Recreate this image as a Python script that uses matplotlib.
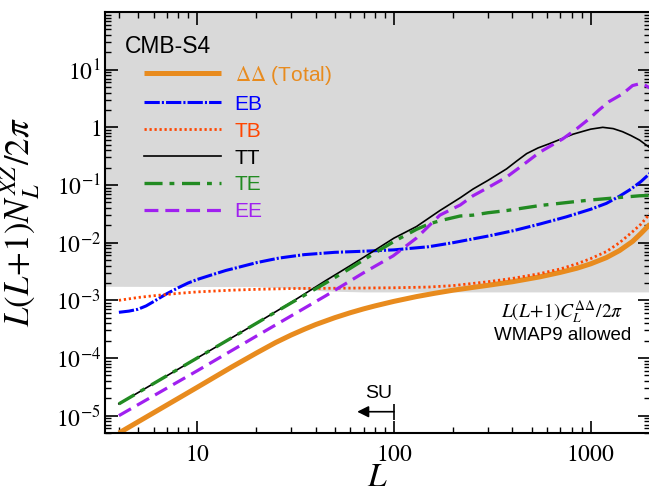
import matplotlib
matplotlib.use("Agg")
import matplotlib.pyplot as plt
from matplotlib.ticker import FixedLocator, LogLocator, NullFormatter

plt.rcParams["mathtext.fontset"] = "stix"
plt.rcParams["font.family"] = ["Liberation Sans", "DejaVu Sans"]
plt.rcParams["lines.scale_dashes"] = False

# values (L, L(L+1)N_L/2pi)
L_dd = [4, 10, 15, 20, 25, 30, 35, 40, 50, 60, 70, 80, 100, 130, 160, 200, 250,
        300, 400, 550, 700, 850, 1000, 1200, 1400, 1630, 1800, 2000]
dd_total = [5e-6, 3.1e-5, 7e-5, 1.22e-4, 1.85e-4, 2.5e-4, 3.15e-4, 3.8e-4, 5.0e-4,
            6.1e-4, 7.1e-4, 8.0e-4, 9.6e-4, 1.16e-3, 1.32e-3, 1.5e-3, 1.67e-3,
            1.82e-3, 2.1e-3, 2.55e-3, 3.05e-3, 3.6e-3, 4.3e-3, 5.5e-3, 7.3e-3,
            1.05e-2, 1.45e-2, 2.1e-2]

L_eb = [4, 4.5, 5, 5.5, 6, 6.5, 7, 8, 9, 10, 12, 14, 16, 20, 26, 35, 50, 70, 100,
        150, 200, 300, 400, 550, 750, 1000, 1200, 1400, 1600, 1800, 2000]
eb = [6.2e-4, 6.5e-4, 7.0e-4, 8.0e-4, 9.5e-4, 1.12e-3, 1.3e-3, 1.65e-3, 2.0e-3,
      2.3e-3, 2.8e-3, 3.3e-3, 3.7e-3, 4.5e-3, 5.4e-3, 6.2e-3, 6.8e-3, 7.1e-3,
      7.5e-3, 8.5e-3, 1.0e-2, 1.3e-2, 1.6e-2, 2.1e-2, 2.8e-2, 3.8e-2, 4.8e-2,
      6.4e-2, 8.5e-2, 0.115, 0.16]

L_tb = [4, 5, 6, 8, 10, 15, 20, 30, 50, 100, 150, 200, 300, 400, 550, 700, 850,
        1000, 1200, 1400, 1630, 1800, 2000]
tb = [1.0e-3, 1.12e-3, 1.2e-3, 1.32e-3, 1.4e-3, 1.5e-3, 1.55e-3, 1.6e-3, 1.62e-3,
      1.65e-3, 1.7e-3, 1.8e-3, 2.1e-3, 2.4e-3, 2.9e-3, 3.5e-3, 4.3e-3, 5.3e-3, 7e-3,
      1.0e-2, 1.55e-2, 2.1e-2, 3.2e-2]

L_tt = [4, 10, 20, 30, 45, 60, 78, 100, 130, 171, 217, 252, 300, 373, 420, 472,
        540, 616, 700, 812, 910, 1000, 1150, 1300, 1450, 1600, 1770, 2000]
tt = [1.6e-5, 1.0e-4, 4.0e-4, 9.2e-4, 2.2e-3, 4e-3, 7e-3, 1.2e-2, 1.9e-2, 3.6e-2,
      6e-2, 8.5e-2, 0.12, 0.19, 0.26, 0.35, 0.44, 0.52, 0.62, 0.76, 0.85, 0.93, 1.0,
      0.95, 0.84, 0.72, 0.6, 0.44]

L_te = [4, 10, 20, 30, 45, 60, 78, 100, 130, 150, 171, 217, 252, 300, 373, 550,
        812, 1000, 1200, 1500, 1770, 2000]
te = [1.6e-5, 1.0e-4, 4e-4, 9e-4, 2.0e-3, 3.6e-3, 6.3e-3, 1.05e-2, 1.7e-2, 2.1e-2,
      2.4e-2, 2.9e-2, 3.0e-2, 3.3e-2, 3.6e-2, 4.4e-2, 5.1e-2, 5.5e-2, 5.8e-2, 6.2e-2,
      6.5e-2, 6.6e-2]

L_ee = [4, 10, 20, 45, 70, 99, 130, 171, 217, 252, 300, 373, 450, 550, 720, 850,
        980, 1100, 1240, 1450, 1630, 1770, 1900, 2000]
ee = [1.0e-5, 6e-5, 2.4e-4, 1.2e-3, 3e-3, 5.9e-3, 1.2e-2, 3e-2, 4.5e-2, 6.5e-2,
      9e-2, 0.137, 0.22, 0.37, 0.63, 0.95, 1.4, 2.0, 2.8, 3.8, 5.3, 5.7, 5.3, 4.8]

# upper edge of the WMAP9-allowed region
L_grey = [3.4, 20, 30, 45, 70, 2000]
grey_lo = [1.75e-3, 1.73e-3, 1.62e-3, 1.45e-3, 1.4e-3, 1.4e-3]

fig = plt.figure(figsize=(6.49, 4.92), dpi=100)
ax = fig.add_axes([0.1618, 0.1199, 0.8398, 0.8557])
ax.set_xscale("log")
ax.set_yscale("log")
ax.set_xlim(3.4, 2000)
ax.set_ylim(5e-6, 100)

ax.fill_between(L_grey, grey_lo, 1e3, color="#d9d9d9", lw=0, zorder=0)

ax.plot(L_dd, dd_total, color="#e88b1e", lw=3.6, label=r"$\Delta\Delta$ (Total)",
        solid_capstyle="butt")
ax.plot(L_eb, eb, color="#0000ff", lw=2.2, dashes=(11, 1.5, 1.5, 1.5), label="EB")
ax.plot(L_tb, tb, color="#ff4500", lw=2.0, dashes=(1.6, 2.0), label="TB")
ax.plot(L_tt, tt, color="black", lw=1.2, label="TT")
ax.plot(L_te, te, color="#228b22", lw=2.4, dashes=(13, 5, 3.5, 5.5), label="TE")
ax.plot(L_ee, ee, color="#a020f0", lw=2.3, dashes=(10, 5), label="EE")

ax.legend(loc="upper left", bbox_to_anchor=(0.0716, 0.877), frameon=False,
          fontsize=15, handlelength=3.7, handletextpad=0.65, labelspacing=0.38,
          borderpad=0, borderaxespad=0, labelcolor="linecolor")
ax.text(0.0367, 0.917, "CMB-S4", transform=ax.transAxes, fontsize=16.5,
        ha="left", va="center")

ax.text(0.839, 0.288, r"$L(L\!+\!1)C_L^{\Delta\Delta}/2\pi$", transform=ax.transAxes,
        fontsize=14, ha="center", va="center")
ax.text(0.839, 0.232, "WMAP9 allowed", transform=ax.transAxes, fontsize=13.5,
        ha="center", va="center")

# SU marker
su_L, su_tip, su_y = 100, 65, 1.17e-5
ax.annotate("", xy=(su_tip, su_y), xytext=(su_L, su_y),
            arrowprops=dict(arrowstyle="-|>", color="black", lw=1.2,
                            shrinkA=0, shrinkB=0, mutation_scale=17))
ax.vlines(su_L, 8.5e-6, 1.6e-5, color="black", lw=1.2)
ax.text(84, 2.4e-5, "SU", fontsize=14, ha="center", va="center")

ax.xaxis.set_major_locator(FixedLocator([10, 100, 1000]))
ax.set_xticklabels([r"$10$", r"$100$", r"$1000$"])
ax.xaxis.set_minor_locator(LogLocator(base=10, subs=range(2, 10), numticks=20))
ax.xaxis.set_minor_formatter(NullFormatter())

ax.yaxis.set_major_locator(FixedLocator([1e-5, 1e-4, 1e-3, 1e-2, 1e-1, 1, 10]))
ax.set_yticklabels([r"$10^{-5}$", r"$10^{-4}$", r"$10^{-3}$", r"$10^{-2}$",
                    r"$10^{-1}$", r"$1$", r"$10^{1}$"])
ax.yaxis.set_minor_locator(LogLocator(base=10, subs=range(2, 10), numticks=20))
ax.yaxis.set_minor_formatter(NullFormatter())

ax.tick_params(which="both", direction="in", top=True, right=True)
ax.tick_params(which="major", length=9, width=1.2, labelsize=17)
ax.tick_params(which="minor", length=4, width=1.0)
ax.tick_params(axis="x", which="major", pad=8)
ax.tick_params(axis="y", which="major", pad=3)
for s in ax.spines.values():
    s.set_linewidth(1.5)

ax.set_xlabel(r"$L$", fontsize=24)
ax.xaxis.set_label_coords(0.5, -0.068)
ax.set_ylabel(r"$L(L\!+\!1)N_L^{XZ}/2\pi$", fontsize=25)
ax.yaxis.set_label_coords(-0.115, 0.5)

fig.savefig("out.png", dpi=100)
